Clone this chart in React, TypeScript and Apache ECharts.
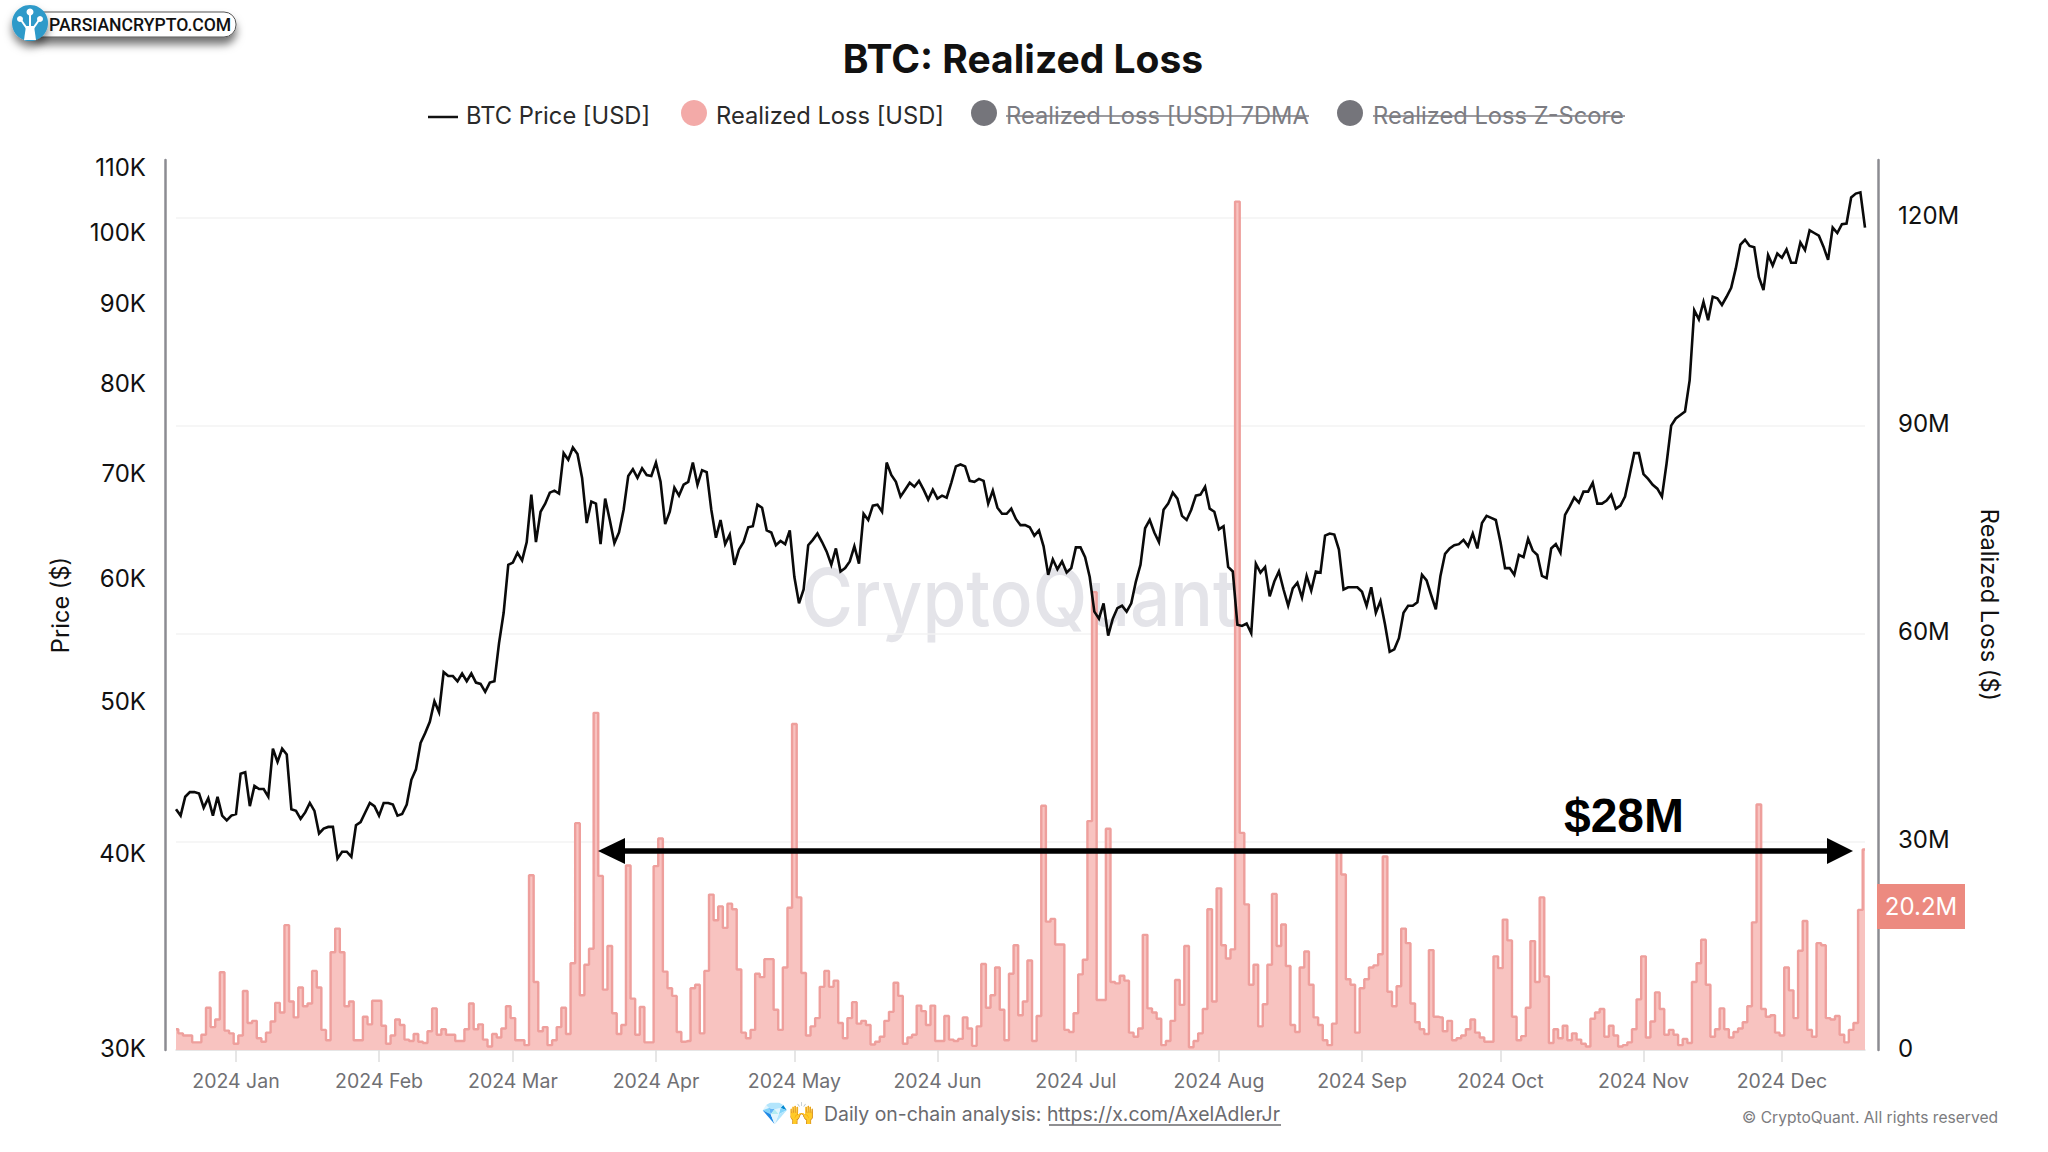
import React, { useEffect, useRef } from "react";
import * as echarts from "echarts";

const startDate = Date.UTC(2023, 11, 19);
const dayCount = 367;
const monthNames = ["Jan","Feb","Mar","Apr","May","Jun","Jul","Aug","Sep","Oct","Nov","Dec"];
const priceTicks = [30000, 40000, 50000, 60000, 70000, 80000, 90000, 100000, 110000];

// BTC price, thousands of USD
const priceA = [
  42.8,42.4,43.6,43.9,43.9,43.8,42.9,43.5,42.4,
  43.6,42.4,42.1,42.4,42.5,45.1,45.2,43.0,44.3,44.1,
  44.1,43.6,46.8,45.9,46.8,46.4,42.8,42.7,42.2,42.6,
  43.2,42.7,41.3,41.6,41.7,41.7,39.8,40.2,40.2,39.9,
  41.8,42.0,42.6,43.2,43.0,42.4,43.2,43.2,43.1,42.4,
  42.5,43.1,44.7,45.4,47.2,47.9,48.7,50.2,49.4,52.4,
  52.1,52.1,51.7,52.3,51.7,52.3,51.6,51.5,50.9,51.6,
  51.7,54.7,57.2,61.4,61.6,62.5,61.8,63.5,68.1,63.5,
  66.4,67.2,68.3,68.5,68.2,72.4,71.7,73.0,72.3,69.8,
  65.3,67.4,67.2,63.3,67.7,65.6,63.4,64.4,66.6,70.0,
  70.7,69.8,70.8,70.1,70.0,71.4,69.4,65.2,66.4,68.8,
  68.0,69.1,69.4,71.4,69.1,70.6,70.4,66.6,63.9,65.6,
  63.3,64.2,61.4,62.8,63.5,64.9,65.0,67.1,66.8,64.6,
  64.4,63.2,63.6,63.3,64.6,
];
const priceB = [
  60.3,58.0,59.2,63.2,63.7,64.3,63.5,62.6,61.4,62.9,
  60.8,61.1,61.7,63.1,61.5,66.2,65.6,67.0,67.1,66.4,
  71.4,70.1,69.4,67.9,68.6,69.3,68.9,69.5,68.6,67.6,
  68.6,67.7,68.0,67.8,69.3,71.0,71.2,71.0,69.5,69.4,
  69.7,69.5,67.2,68.5,66.8,66.2,66.2,66.7,65.7,65.1,
  65.1,64.9,64.1,64.6,63.1,60.5,61.9,61.0,61.7,60.7,
  61.1,63.0,63.0,62.1,60.3,57.3,56.7,58.0,55.3,56.7,
  57.6,57.8,57.3,58.0,59.9,61.4,64.8,65.6,64.4,63.5,
  66.6,67.2,68.3,67.7,66.0,65.6,66.6,68.0,68.1,68.9,
  66.7,66.4,64.7,65.0,61.2,60.8,56.2,56.1,56.3,55.5,
  61.5,60.7,61.2,58.6,59.9,60.8,59.2,57.8,59.3,59.8,
  58.5,60.4,59.1,60.8,60.7,64.1,64.3,64.2,62.8,59.2,
  59.4,59.4,59.4,59.0,57.8,59.4,57.2,58.2,56.2,54.0,
  54.2,55.1,
];
const priceC = [
  57.2,57.8,57.8,58.1,60.5,60.0,58.7,57.5,60.4,62.4,
  62.9,63.2,63.3,63.7,63.1,64.3,62.9,65.3,66.0,65.8,
  65.6,63.5,61.1,61.1,60.5,62.3,62.1,63.8,62.7,62.3,
  60.4,60.2,62.9,63.3,62.5,66.1,66.9,67.8,67.3,68.4,
  68.4,69.3,67.2,67.2,67.5,68.1,66.7,67.0,67.9,70.1,
  72.4,72.4,70.2,69.7,69.1,68.7,67.9,71.3,75.4,76.2,
  76.6,77.0,80.6,89.4,88.2,90.5,88.1,91.2,91.0,90.1,
  91.2,92.4,95.1,98.5,99.2,98.3,98.1,93.9,92.1,97.0,
  95.5,97.2,96.6,97.8,95.9,95.9,98.8,97.7,100.6,100.2,
  99.8,98.2,96.3,101.0,100.2,101.5,101.6,105.6,106.2,106.4,
  101.0,
];

// Realized loss, millions of USD
const lossA = [
  3.0,2.4,2.1,2.1,1.1,1.1,2.2,6.1,3.3,4.4,
  11.2,2.8,2.4,0.9,2.1,8.5,3.9,4.2,1.7,1.2,
  2.5,4.1,6.8,5.4,18,7,4.7,9,6.3,6.7,
  11.4,9,2.9,1.4,14.1,17.5,14.1,6.3,7,1.4,
  1.4,4.8,3.7,7.1,7.1,3.5,0.9,2.1,4.4,3.6,
  1.5,1.3,2.3,1.2,1,2.7,6,2.2,3,2.2,
  2.2,1.3,1.3,3,6.7,3,3.7,1.5,0.5,2.3,
  1.8,3.1,6.3,4.6,1.4,1.4,0.7,25.2,9.8,2.7,
  3.3,0.7,1.4,3.3,6.1,2.3,12.5,32.7,7.9,12.3,
  14.6,48.6,25.1,8.7,15,5.3,2.3,3.6,
];
const lossB = [
  26.6,7.4,2.2,6.2,1.1,1.1,26.5,30.5,11.3,8.9,
  7.8,2.6,1.2,1.3,8.9,9.4,2.4,11.4,22.4,18.7,
  20.7,17.6,21.1,20.3,11.6,2.5,1.7,2.9,11,10.5,
  13.1,13.1,5.8,2.9,11.9,20.5,47,22,11.1,2.1,
  3.4,4.6,9.1,11.4,9.1,10,3.9,1.7,4.6,6.9,
  3.8,4.2,3.6,0.8,1.2,1.9,4.2,5.5,9.7,7.8,
  0.9,1.8,2.2,6.4,5.6,3.6,6.4,1.3,1.3,4.9,
  1.5,1.3,1.6,4.7,3.1,0.6,3.4,12.4,6.1,7.9,
  11.9,5.8,1.4,11,15.1,5,7,12.9,1.3,4.9,
  35.2,18.5,18.9,15.2,15.2,2.9,2.6,5.3,10.9,13,
  33,
];
const lossC = [
  66,7.2,7.2,31.9,9.8,9.6,10.7,10,2.5,1.9,
  3.1,16.6,6,5.4,4.5,0.7,1.3,4.2,10.1,6.5,
  15,0.4,1.3,2.4,5.9,20.3,7,23.3,15.1,13.2,
  14.5,122.3,31.3,21,9.4,12.3,3.4,6.6,12.3,22.5,15,
  18.1,12.1,3.6,2.6,11.9,14.2,9.4,4.7,3.6,1.4,
  0.7,3.8,28.6,25.3,10.2,9.4,2.5,8.9,10.2,11.9,
  12.2,13.8,27.9,8.4,6.3,9.2,17.5,15.4,6.7,4,
  3,2.3,14.4,4.8,4.7,2.7,4.2,1.4,1.7,2.1,
  3,4.4,2.5,1.8,1.2,1.2,13.5,11.8,18.8,15.8,
  4.8,1.4,2,6.1,15.7,9.8,22,10.6,1,3,
  1.7,3.5,
];
const lossD = [
  1.4,2.4,1.5,0.9,0.5,4.5,5.4,5.9,1.9,3.5,
  2.1,0.5,0.7,1.1,3,7.3,13.5,1.8,4.1,8.3,
  5.9,2.2,2.9,2.2,0.7,1.6,1,9.8,12.5,15.9,
  9.4,1.9,3,6,3,1.8,2.6,3.1,4,6.3,
  18.4,35.4,5.9,4.8,5,2.5,2.1,11.9,8.6,4.6,
  14.3,18.6,2.9,1.9,15.4,15.1,4.6,4.4,4.9,2.2,
  1.1,2.9,3.9,20.2,28.9,
];

const dates: string[] = Array.from({ length: dayCount }, (_, i) =>
  new Date(startDate + i * 86400000).toISOString().slice(0, 10)
);
const isMonthStart = (_: number, v: string) => v.endsWith("-01");
const FONT = "Inter";
const prices = [...priceA, ...priceB, ...priceC].map((v) => v * 1000);
const losses = [...lossA, ...lossB, ...lossC, ...lossD].map((v) => v * 1e6);

const legendText = (x: number, text: string, color: string) => ({
  type: "text", x, y: 115, z: 10,
  style: { text, fill: color, font: `23.7px ${FONT}`, textAlign: "left", textVerticalAlign: "middle" },
});

function buildOption() {
  return {
    animation: false,
    backgroundColor: "#ffffff",
    title: {
      text: "BTC: Realized Loss", left: 1018, top: 34, textAlign: "center",
      textStyle: { fontFamily: FONT, fontSize: 39, fontWeight: 700, color: "#111111" },
    },
    grid: { left: 176, right: 183, top: 160, bottom: 102, containLabel: false },
    xAxis: {
      type: "category", data: dates, boundaryGap: false,
      axisLine: { lineStyle: { color: "#dedede", width: 1.5 } },
      axisTick: { length: 12, interval: isMonthStart, lineStyle: { color: "#dedede", width: 1.5 } },
      axisLabel: {
        interval: isMonthStart, margin: 21, color: "#707074", fontFamily: FONT, fontSize: 19.5,
        formatter: (v: string) => `${v.slice(0, 4)} ${monthNames[Number(v.slice(5, 7)) - 1]}`,
      },
      splitLine: { show: false },
    },
    yAxis: [
      {
        type: "log", logBase: 10, min: 30000, max: 111600, position: "left", offset: 11,
        name: "Price ($)", nameLocation: "middle", nameGap: 93, nameRotate: 90,
        nameTextStyle: { fontFamily: FONT, fontSize: 23.6, color: "#111111" },
        axisLine: { show: true, lineStyle: { color: "#8c8c92", width: 2.5 } },
        axisTick: { show: false },
        splitLine: { show: false }, minorSplitLine: { show: false },
        axisLabel: {
          customValues: priceTicks, margin: 19, color: "#111111", fontFamily: FONT, fontSize: 24,
          verticalAlign: "bottom", lineHeight: 4,
          showMinLabel: true, showMaxLabel: true,
          formatter: (v: number) => `${Math.round((v < 100 ? Math.pow(10, v) : v) / 1000)}K`,
        },
      },
      {
        type: "value", min: 0, max: 128300000, interval: 30000000, position: "right", offset: 13,
        name: "Realized Loss ($)", nameLocation: "middle", nameGap: 99, nameRotate: -90,
        nameTextStyle: { fontFamily: FONT, fontSize: 23.6, color: "#111111" },
        axisLine: { show: true, lineStyle: { color: "#8c8c92", width: 2.5 } },
        axisTick: { show: false },
        splitLine: { show: true, showMinLine: false, showMaxLine: false, lineStyle: { color: "#f3f3f3", width: 1.5 } },
        axisLabel: {
          margin: 20, color: "#111111", fontFamily: FONT, fontSize: 24, showMaxLabel: false,
          verticalAlign: "bottom", lineHeight: 4,
          formatter: (v: number) => (v === 0 ? "0" : `${Math.round(v / 1e6)}M`),
        },
      },
    ],
    series: [
      {
        name: "Realized Loss [USD]", type: "line", yAxisIndex: 1, data: losses, step: "middle",
        showSymbol: false, symbol: "none", clip: false, z: 2,
        lineStyle: { color: "#ee9f9c", width: 2.4 },
        areaStyle: { color: "#f8c3c0", opacity: 1 },
      },
      {
        name: "BTC Price [USD]", type: "line", yAxisIndex: 0, data: prices,
        showSymbol: false, symbol: "none", z: 3,
        lineStyle: { color: "#0a0a0a", width: 2.6, join: "miter" },
      },
    ],
    graphic: [
      // watermark
      { type: "text", x: 1019, y: 597, z: 0, silent: true, scaleY: 1.12,
        style: { text: "CryptoQuant", fill: "#e4e4e9", font: `500 71px ${FONT}`, textAlign: "center", textVerticalAlign: "middle" } },
      // logo
      { type: "rect", z: 20, shape: { x: 30, y: 12, width: 206, height: 25, r: 12 },
        style: { fill: "#ffffff", stroke: "#555555", lineWidth: 1, shadowBlur: 9, shadowOffsetY: 7, shadowColor: "rgba(0,0,0,0.55)" } },
      { type: "text", x: 49, y: 25, z: 21,
        style: { text: "PARSIANCRYPTO.COM", fill: "#111111", font: `500 17.6px Roboto`, textAlign: "left", textVerticalAlign: "middle" } },
      { type: "circle", z: 22, shape: { cx: 30, cy: 23, r: 18 }, style: { fill: "#2f9ac9", shadowBlur: 8, shadowOffsetY: 6, shadowColor: "rgba(0,0,0,0.5)" } },
      { type: "polygon", z: 23, shape: { points: [[26, 26], [34, 26], [36, 40], [24, 40]] }, style: { fill: "#ffffff" } },
      { type: "circle", z: 23, shape: { cx: 30, cy: 12, r: 3.5 }, style: { fill: "#ffffff" } },
      { type: "circle", z: 23, shape: { cx: 20, cy: 19, r: 3 }, style: { fill: "#ffffff" } },
      { type: "circle", z: 23, shape: { cx: 40, cy: 19, r: 3 }, style: { fill: "#ffffff" } },
      { type: "line", z: 23, shape: { x1: 30, y1: 14, x2: 30, y2: 28 }, style: { stroke: "#ffffff", lineWidth: 2 } },
      { type: "line", z: 23, shape: { x1: 21, y1: 20, x2: 28, y2: 30 }, style: { stroke: "#ffffff", lineWidth: 2 } },
      { type: "line", z: 23, shape: { x1: 39, y1: 20, x2: 32, y2: 30 }, style: { stroke: "#ffffff", lineWidth: 2 } },
      // legend
      { type: "line", z: 10, shape: { x1: 428, y1: 117, x2: 458, y2: 117 }, style: { stroke: "#111111", lineWidth: 2.5 } },
      legendText(466, "BTC Price [USD]", "#2a2a2a"),
      { type: "circle", z: 10, shape: { cx: 694, cy: 113, r: 13 }, style: { fill: "#f3aaa8" } },
      legendText(716, "Realized Loss [USD]", "#2a2a2a"),
      { type: "circle", z: 10, shape: { cx: 984, cy: 113, r: 13 }, style: { fill: "#75757b" } },
      legendText(1006, "Realized Loss [USD] 7DMA", "#7c7c82"),
      { type: "line", z: 11, shape: { x1: 1006, y1: 116, x2: 1309, y2: 116 }, style: { stroke: "#7c7c82", lineWidth: 1.6 } },
      { type: "circle", z: 10, shape: { cx: 1350, cy: 113, r: 13 }, style: { fill: "#75757b" } },
      legendText(1373, "Realized Loss Z-Score", "#7c7c82"),
      { type: "line", z: 11, shape: { x1: 1373, y1: 116, x2: 1625, y2: 116 }, style: { stroke: "#7c7c82", lineWidth: 1.6 } },
      // arrow annotation
      { type: "line", z: 30, shape: { x1: 620, y1: 851, x2: 1832, y2: 851 }, style: { stroke: "#000000", lineWidth: 5.5 } },
      { type: "polygon", z: 30, shape: { points: [[598, 851], [625, 838], [625, 864]] }, style: { fill: "#000000" } },
      { type: "polygon", z: 30, shape: { points: [[1853, 851], [1827, 838], [1827, 864]] }, style: { fill: "#000000" } },
      { type: "text", x: 1624, y: 815, z: 30,
        style: { text: "$28M", fill: "#000000", font: `bold 48px "Liberation Sans"`, textAlign: "center", textVerticalAlign: "middle" } },
      // last-value badge
      { type: "rect", z: 12, shape: { x: 1877, y: 884, width: 88, height: 45 }, style: { fill: "#ec8a80" } },
      { type: "text", x: 1921, y: 906, z: 13,
        style: { text: "20.2M", fill: "#ffffff", font: `24px ${FONT}`, textAlign: "center", textVerticalAlign: "middle" } },
      // footer
      { type: "text", x: 761, y: 1113, z: 10,
        style: { text: "💎🙌", fill: "#666666", font: `22px ${FONT}`, textAlign: "left", textVerticalAlign: "middle" } },
      { type: "text", x: 824, y: 1114, z: 10,
        style: { text: "Daily on-chain analysis: https://x.com/AxelAdlerJr", fill: "#6a6a6e", font: `19.4px ${FONT}`, textAlign: "left", textVerticalAlign: "middle" } },
      { type: "line", z: 10, shape: { x1: 1049, y1: 1125, x2: 1281, y2: 1125 }, style: { stroke: "#6a6a6e", lineWidth: 1.3 } },
      { type: "text", x: 1742, y: 1117, z: 10,
        style: { text: "© CryptoQuant. All rights reserved", fill: "#7c7c80", font: `15.6px ${FONT}`, textAlign: "left", textVerticalAlign: "middle" } },
    ],
  };
}

export default function App() {
  const ref = useRef<HTMLDivElement>(null);
  useEffect(() => {
    document.body.style.margin = "0";
    const chart = echarts.init(ref.current!, undefined, { renderer: "svg", width: 2048, height: 1152 });
    chart.setOption(buildOption() as any);
    return () => chart.dispose();
  }, []);
  return <div ref={ref} style={{ width: 2048, height: 1152 }} />;
}
